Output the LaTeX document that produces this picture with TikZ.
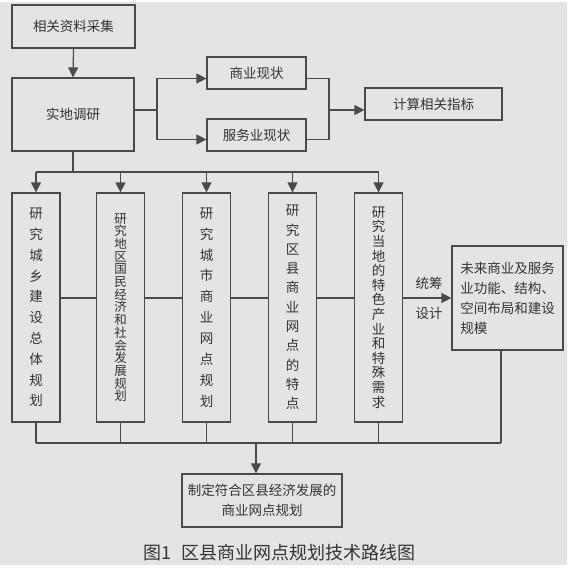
\documentclass[tikz,border=0pt]{standalone}
\usepackage{fontspec}
\setmainfont{Noto Sans CJK SC}
\usetikzlibrary{arrows.meta}
\definecolor{bg}{HTML}{E4E4E4}
\definecolor{ln}{HTML}{4A4A4A}
\definecolor{tx}{HTML}{333333}
\tikzset{
  box/.style={draw=ln, line width=1.2pt, inner sep=0pt, text=tx,
    font=\fontsize{13.5}{20}\selectfont, align=center},
  vbox/.style={box, minimum width=48pt, minimum height=229pt},
  wire/.style={draw=ln, line width=1.2pt},
  arr/.style={wire, -{Triangle[length=10pt,width=10pt]}},
  lbl/.style={text=tx, inner sep=0pt, align=center, font=\fontsize{13.5}{30}\selectfont},
}
\begin{document}
\begin{tikzpicture}[x=1pt,y=-1pt]
\useasboundingbox (0,0) rectangle (574,570);
\fill[white] (0,0) rectangle (574,570);
\fill[bg] (0,2) rectangle (567,565);

% top part
\node[box, minimum width=123pt, minimum height=43pt] (collect) at (73.5,26.5) {相关资料采集};
\node[box, minimum width=122pt, minimum height=73pt] (survey) at (73,114.5) {实地调研};
\node[box, minimum width=99pt, minimum height=32pt] (shangye) at (256.5,73) {商业现状};
\node[box, minimum width=99pt, minimum height=32pt] (fuwu) at (256.5,135) {服务业现状};
\node[box, minimum width=137pt, minimum height=32pt] (jisuan) at (433.5,104) {计算相关指标};

% vertical boxes
\node[vbox, font=\fontsize{13.5}{20.8}\selectfont] (v1) at (36,307.5) {研\\究\\城\\乡\\建\\设\\总\\体\\规\\划};
\node[vbox, font=\fontsize{12.5}{12.7}\selectfont] (v2) at (120.5,307.5) {研\\究\\地\\区\\国\\民\\经\\济\\和\\社\\会\\发\\展\\规\\划};
\node[vbox, font=\fontsize{13.5}{20.9}\selectfont] (v3) at (206.5,307.5) {研\\究\\城\\市\\商\\业\\网\\点\\规\\划};
\node[vbox, font=\fontsize{13.5}{19.3}\selectfont] (v4) at (292.5,307.5) {研\\究\\区\\县\\商\\业\\网\\点\\的\\特\\点};
\node[vbox, font=\fontsize{13.5}{14.6}\selectfont] (v5) at (378.5,307.5) {研\\究\\当\\地\\的\\特\\色\\产\\业\\和\\特\\殊\\需\\求};
\node[box, minimum width=111pt, minimum height=104pt, align=left] (future) at (507.5,298)
  {未来商业及服务\\业功能、结构、\\空间布局和建设\\规模};
\node[lbl] (tongchou) at (429,298) {统筹\\设计};

% final box and caption
\node[box, minimum width=160pt, minimum height=53pt] (final) at (262,500.5) {制定符合区县经济发展的\\商业网点规划};
\node[text=tx, inner sep=0pt, anchor=west, font=\fontsize{18}{18}\selectfont] (cap) at (143,553)
  {图1\hspace{10pt}区县商业网点规划技术路线图};

% connectors: top
\draw[arr] (collect.south) -- (survey.north);
\coordinate (j1) at (157,110);
\coordinate (j2) at (329,110);
\draw[wire] (survey.east |- j1) -- (j1);
\draw[arr] (j1) |- ([yshift=-5.5pt]shangye.west);
\draw[arr] (j1) |- ([yshift=-4.5pt]fuwu.west);
\draw[wire] ([yshift=-5.5pt]shangye.east) -| (j2);
\draw[wire] ([yshift=-4.5pt]fuwu.east) -| (j2);
\draw[arr] (j2) -- (j2 -| jisuan.west);

% distribution bus
\coordinate (bus1) at (73,172);
\draw[wire] (survey.south) -- (bus1);
\draw[wire] (v1.north |- bus1) -- (v5.north |- bus1);
\foreach \v in {v1,v2,v3,v4,v5} {
  \draw[arr] (\v.north |- bus1) -- (\v.north);
}

% horizontal links between vertical boxes
\draw[wire] (v1.east |- future) -- (v2.west |- future);
\draw[wire] (v2.east |- future) -- (v3.west |- future);
\draw[wire] (v3.east |- future) -- (v4.west |- future);
\draw[wire] (v4.east |- future) -- (v5.west |- future);
\draw[arr] (v5.east |- future) -- (future.west);

% bottom collection bus
\coordinate (bus2) at (256,443);
\coordinate (fs) at ([xshift=-6.5pt]future.south);
\foreach \v in {v1,v2,v3,v4,v5} {
  \draw[wire] (\v.south) -- (\v.south |- bus2);
}
\draw[wire] (fs) -- (fs |- bus2);
\draw[wire] (v1.south |- bus2) -- (fs |- bus2);
\draw[arr] (bus2) -- (bus2 |- final.north);
\end{tikzpicture}
\end{document}
